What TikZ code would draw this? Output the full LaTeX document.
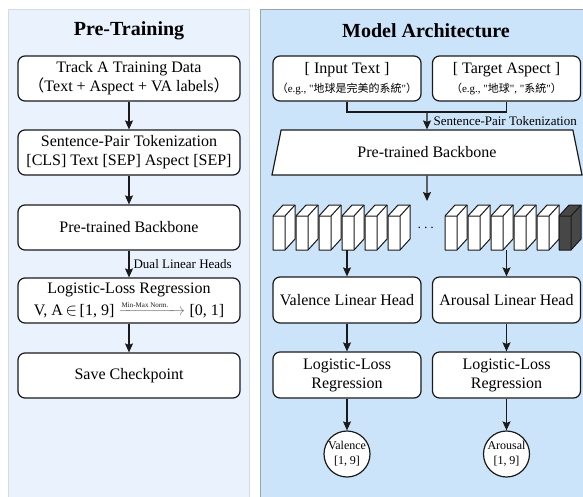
\documentclass[tikz,border=0pt]{standalone}
\usepackage{amsmath}
\usepackage{fontspec}
\setmainfont{Liberation Serif}
\newfontfamily\cjk{Noto Sans CJK TC}
\newfontfamily\plainserif{Liberation Serif}
\usetikzlibrary{arrows.meta,positioning,shapes.geometric}
\definecolor{pleft}{HTML}{E9F2FD}
\definecolor{pleftline}{HTML}{D6DCE2}
\definecolor{pright}{HTML}{CCE4FA}
\definecolor{prightline}{HTML}{9DA3A9}
\definecolor{ink}{HTML}{1A1A1A}
\definecolor{slabdark}{HTML}{474747}
\newcommand{\dq}{{\plainserif"}}
\tikzset{
  box/.style={draw=ink,fill=white,rounded corners=7pt,line width=1.2pt,align=center,font=\fontsize{16}{19}\selectfont,inner sep=2pt},
  ttl/.style={font=\fontsize{20}{24}\selectfont\bfseries},
  arr/.style={-{Stealth[length=9pt,width=8pt,inset=1.5pt]},line width=1.2pt,draw=ink},
  lbl/.style={font=\fontsize{13}{15}\selectfont,anchor=west,inner sep=0pt},
  outc/.style={circle,draw=ink,fill=white,line width=1.2pt,minimum size=46pt,inner sep=0pt,align=center,font=\fontsize{12}{15}\selectfont},
}
\newcommand{\subtxt}{\fontsize{11}{13}\selectfont}

\begin{document}
\begin{tikzpicture}[x=1pt,y=-1pt,
                    lbox/.style={box,minimum width=222pt,minimum height=45pt},
                    rbox/.style={box,minimum width=148pt,minimum height=46pt}]
  \useasboundingbox (0,0) rectangle (583,496);
  \filldraw[fill=pleft,draw=pleftline,line width=0.8pt] (8,9) rectangle (249,510);
  \filldraw[fill=pright,draw=prightline,line width=0.8pt] (260,9) rectangle (600,510);
  \node[ttl] (lt) at (129,31) {Pre-Training};
  \node[ttl] (rt) at (426,31) {Model Architecture};
  % pre-training column
  \node[lbox] (track) at (129,78.5) {Track A Training Data\\\hspace*{-6pt}{\cjk（}Text + Aspect + VA labels{\cjk）}\hspace*{-6pt}};
  \node[lbox] (tok) at (129,152.5) {Sentence-Pair Tokenization\\{}[CLS] Text [SEP] Aspect [SEP]};
  \node[lbox] (lbb) at (129,227.5) {Pre-trained Backbone};
  \node[lbox] (llr) at (129,300.5) {Logistic-Loss Regression\\[3pt]V, A\,$\in$\,[1, 9] \textcolor{gray}{$\xrightarrow{\raisebox{-1.5pt}{\text{\fontsize{7}{7}\selectfont\color{ink}Min-Max Norm.}}\hspace{12pt}}$} [0, 1]};
  \node[lbox] (ckpt) at (129,375.5) {Save Checkpoint};
  \draw[arr] (track) -- (tok);
  \draw[arr] (tok) -- (lbb);
  \draw[arr] (lbb) -- (llr) node[lbl,midway,xshift=4pt] {Dual Linear Heads};
  \draw[arr] (llr) -- (ckpt);
  % model architecture
  \node[rbox,minimum height=45pt] (intext) at (347,78.5) {[ Input Text ]\\{\subtxt\hspace*{-5pt}{\cjk（}e.g., \dq{\cjk 地球是完美的系統}\dq{\cjk）}\hspace*{-5pt}}};
  \node[rbox,minimum height=45pt] (aspect) at (506.5,78.5) {[ Target Aspect ]\\{\subtxt\hspace*{-5pt}{\cjk（}e.g., \dq{\cjk 地球}\dq, \dq{\cjk 系統}\dq{\cjk）}\hspace*{-5pt}}};
  \coordinate (join) at (427,112);
  \node[trapezium,draw=ink,fill=white,line width=1.2pt,trapezium left angle=63,trapezium right angle=63,
        trapezium stretches body,minimum width=310pt,minimum height=45pt,font=\fontsize{16}{19}\selectfont] (bb) at (427,152.5) {Pre-trained Backbone};
  \draw[line width=1.2pt,draw=ink] (intext.south) |- (join) -| (aspect.south);
  \draw[arr] (join) -- (bb.north) node[lbl,midway,xshift=6pt] {Sentence-Pair Tokenization};
  \coordinate (stk) at (427,201);
  \draw[arr] (bb.south) -- (stk);
  \foreach \x/\c [count=\i] in {273/white,296/white,319/white,342/white,365/white,388/white,
                                445/white,468/white,491/white,514/white,537/white,559/slabdark} {
    \filldraw[fill=\c,draw=ink,line width=1pt,line join=round] (\x,216) -- (\x+10,205) -- (\x+22,205) -- (\x+22,239) -- (\x+12,250) -- (\x,250) -- cycle;
    \draw[ink,line width=1pt,line join=round] (\x,216) -- (\x+12,216) -- (\x+22,205) (\x+12,216) -- (\x+12,250);
    \coordinate (s\i) at (\x+6,250);
  }
  \node[font=\fontsize{14}{14}\selectfont] (dots) at (427,228) {$\cdots$};
  \node[rbox] (val) at (347,300) {Valence Linear Head};
  \node[rbox] (aro) at (506.5,300) {Arousal Linear Head};
  \node[rbox] (vlog) at (347,375) {Logistic-Loss\\Regression};
  \node[rbox] (alog) at (506.5,375) {Logistic-Loss\\Regression};
  \node[outc] (vout) at (347,454) {Valence\\{}[1, 9]};
  \node[outc] (aout) at (506.5,454) {Arousal\\{}[1, 9]};
  \draw[arr] (val.north |- s4) -- (val);
  \draw[arr] (aro.north |- s9) -- (aro);
  \draw[arr] (val) -- (vlog);
  \draw[arr] (aro) -- (alog);
  \draw[arr] (vlog) -- (vout);
  \draw[arr] (alog) -- (aout);
\end{tikzpicture}
\end{document}
